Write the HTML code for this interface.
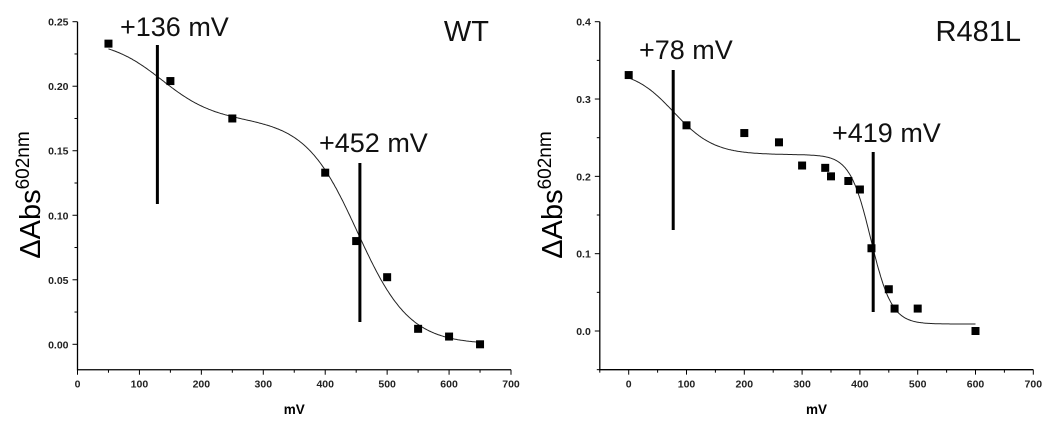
<!DOCTYPE html>
<html><head><meta charset="utf-8"><style>
body{margin:0;background:#fff;}
svg{display:block;font-family:"Liberation Sans",Arial,sans-serif;}
</style></head><body>
<svg id="s" width="1050" height="425"></svg>
<script>
const wtX=[50,150,250,400,450,500,550,600,650];
const wtY=[0.233,0.204,0.175,0.133,0.080,0.052,0.012,0.006,0.000];
const muX=[0,100,200,260,300,340,350,380,400,420,450,460,500,600];
const muY=[0.331,0.266,0.256,0.244,0.214,0.211,0.200,0.194,0.183,0.107,0.054,0.029,0.029,0.000];
const wtXTicks=[0,100,200,300,400,500,600,700];
const wtYTicks=["0.00","0.05","0.10","0.15","0.20","0.25"];
const muXTicks=[0,100,200,300,400,500,600,700];
const muYTicks=["0.0","0.1","0.2","0.3","0.4"];
const wtFit={A1:0.062,E1:136,s1:42,A2:0.174,E2:452,s2:42,c:0};
const muFit={A1:0.11,E1:78,s1:35,A2:0.219,E2:419,s2:18,c:0.009};
const wtMid=[136,452];
const muMid=[78,419];

const NS="http://www.w3.org/2000/svg";
const svg=document.getElementById('s');
function mk(tag,attrs,parent){const e=document.createElementNS(NS,tag);for(const k in attrs)e.setAttribute(k,attrs[k]);(parent||svg).appendChild(e);return e;}

function panel(cfg){
  const g=mk('g',{});
  
  
  const xs=v=>cfg.px0+(v-cfg.x0)*(cfg.px1-cfg.px0)/(cfg.x1-cfg.x0);
  const ys=v=>cfg.py0+(v-cfg.y0)*(cfg.py1-cfg.py0)/(cfg.y1-cfg.y0);
  const axL=xs(cfg.xmin), axB=ys(cfg.ymin), axT=ys(cfg.ymax), axR=xs(cfg.xmax);
  const ax=mk('path',{d:`M${axL},${axT}V${axB}H${axR}`,fill:'none',stroke:'#000','stroke-width':1.3},g);
  
  
  cfg.xt.forEach((t,i)=>{
    const x=xs(t);
    mk('line',{x1:x,x2:x,y1:axB,y2:axB+5,stroke:'#000','stroke-width':1},g);
    const m=x+(cfg.xt[1]-cfg.xt[0])/2*(cfg.px1-cfg.px0)/(cfg.x1-cfg.x0);
    if(i<cfg.xt.length-1) mk('line',{x1:m,x2:m,y1:axB,y2:axB+3,stroke:'#000','stroke-width':1},g);
    const tx=mk('text',{x:x,y:axB+18,'text-anchor':'middle','font-size':10.5,'font-weight':'bold','fill':'#222'},g);
    tx.textContent=t;
    
    
  });
  if(cfg.xmin<cfg.xt[0]) mk('line',{x1:xs(cfg.xmin),x2:xs(cfg.xmin),y1:axB,y2:axB+3,stroke:'#000'},g);
  cfg.yt.forEach((t,i)=>{
    const v=parseFloat(t), y=ys(v);
    mk('line',{x1:axL-5,x2:axL,y1:y,y2:y,stroke:'#000','stroke-width':1},g);
    const step=parseFloat(cfg.yt[1])-parseFloat(cfg.yt[0]);
    const ym=ys(v-step/2);
    if(v-step/2>=cfg.ymin-1e-9) mk('line',{x1:axL-3,x2:axL,y1:ym,y2:ym,stroke:'#000','stroke-width':1},g);
    const tx=mk('text',{x:axL-9,y:y+4,'text-anchor':'end','font-size':10.5,'font-weight':'bold','fill':'#222'},g);
    tx.textContent=t;
    
    
  });
  const xl=mk('text',{x:(axL+axR)/2,y:414,'text-anchor':'middle','font-size':13.5,'font-weight':'bold'},g);
  xl.textContent='mV';
  
  
  const yl=mk('text',{x:0,y:0,'text-anchor':'middle','font-size':29,transform:`translate(${cfg.ylx},195) rotate(-90)`},g);
  yl.innerHTML='ΔAbs<tspan font-size="19" dy="-11">602nm</tspan>';
  
  
  const f=cfg.fit, fn=E=>f.A1/(1+Math.exp((E-f.E1)/f.s1))+f.A2/(1+Math.exp((E-f.E2)/f.s2))+f.c;
  let d='';
  for(let E=cfg.cx0;E<=cfg.cx1;E+=2){d+=(d?'L':'M')+xs(E).toFixed(1)+','+ys(fn(E)).toFixed(1);}
  const c=mk('path',{d:d,fill:'none',stroke:'#222','stroke-width':1},g);
  
  
  cfg.dx.forEach((v,i)=>{
    const p=mk('rect',{x:xs(v)-4,y:ys(cfg.dy[i])-4,width:8,height:8,fill:'#000'},g);
    
    
  });
  cfg.mid.forEach((m,i)=>{
    const b=cfg.bars[i];
    const l=mk('line',{x1:xs(b.x),x2:xs(b.x),y1:b.y1,y2:b.y2,stroke:'#000','stroke-width':3},g);
    
    
    const t=mk('text',{x:b.lx,y:b.ly,'font-size':27,fill:'#111'},g);
    t.textContent='+'+m+' mV';
    
    
  });
  const tt=mk('text',{x:cfg.tx,y:41,'text-anchor':'end','font-size':29,fill:'#111'},g);
  tt.textContent=cfg.title;
  
  
}
panel({name:'wt-panel',x0:0,x1:700,px0:77.5,px1:511,y0:0,y1:0.25,py0:344.3,py1:21.7,
  xmin:0,xmax:700,ymin:-0.0197,ymax:0.25,xt:wtXTicks,yt:wtYTicks,fit:wtFit,cx0:50,cx1:650,
  dx:wtX,dy:wtY,mid:wtMid,ylx:40,tx:489,title:'WT',
  bars:[{x:129,y1:45,y2:204,lx:120,ly:36},{x:456,y1:163,y2:322,lx:319,ly:152}]});
panel({name:'r481l-panel',x0:0,x1:700,px0:628.7,px1:1033.3,y0:0,y1:0.4,py0:331,py1:21.7,
  xmin:-50,xmax:700,ymin:-0.05,ymax:0.4,xt:muXTicks,yt:muYTicks,fit:muFit,cx0:0,cx1:600,
  dx:muX,dy:muY,mid:muMid,ylx:562,tx:1021,title:'R481L',
  bars:[{x:77,y1:70,y2:230,lx:639,ly:59},{x:423,y1:152,y2:312,lx:832,ly:142}]});
</script>
</body></html>
